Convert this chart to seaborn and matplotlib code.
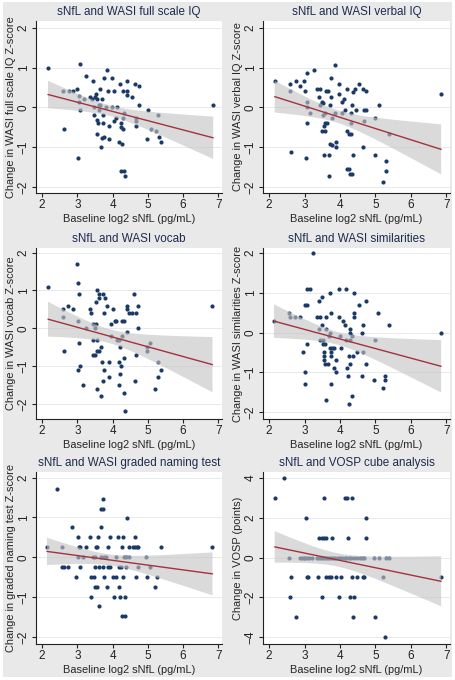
import numpy as np
import matplotlib
matplotlib.use("Agg")
import matplotlib.pyplot as plt
from matplotlib.patches import Rectangle
import seaborn as sns

titles = ["sNfL and WASI full scale IQ", "sNfL and WASI verbal IQ",
          "sNfL and WASI vocab", "sNfL and WASI similarities",
          "sNfL and WASI graded naming test", "sNfL and VOSP cube analysis"]
ylabels = ["Change in WASI full scale IQ Z-score", "Change in WASI verbal IQ Z-score",
           "Change in WASI vocab Z-score", "Change in WASI similarities Z-score",
           "Change in graded naming test Z-score", "Change in VOSP (points)"]
xlabel = "Baseline log2 sNfL (pg/mL)"
xticks = [2, 3, 4, 5, 6, 7]
zticks = [-2, -1, 0, 1, 2]
vosp_ticks = [-4, -2, 0, 2, 4]

fsiq_x = [2.17, 3.07, 3.26, 3.85, 3.44, 3.00, 3.75, 3.98, 4.40, 4.64, 4.74, 4.20, 3.63,
          2.59, 2.77, 2.89, 3.86, 4.03, 4.29, 4.41, 4.41, 4.55, 3.04, 3.18, 3.35, 3.41,
          3.50, 3.54, 3.55, 3.71, 3.05, 3.61, 3.65, 4.74, 3.46, 3.80, 3.97, 4.12, 3.07,
          3.62, 5.00, 6.85, 3.48, 3.74, 4.09, 4.32, 4.29, 4.65, 5.29, 3.55, 4.05, 4.65,
          3.58, 3.73, 4.25, 3.90, 4.66, 4.23, 4.30, 2.63, 5.08, 5.22, 3.55, 3.77, 5.31,
          3.71, 3.90, 4.98, 4.19, 5.38, 4.27, 3.68, 3.02, 4.24, 4.33, 4.36]
fsiq_y = [1.00, 1.08, 0.80, 0.93, 0.67, 0.47, 0.73, 0.73, 0.66, 0.60, 0.53, 0.60, 0.47,
          0.41, 0.41, 0.41, 0.41, 0.41, 0.41, 0.40, 0.32, 0.26, 0.28, 0.20, 0.25, 0.20,
          0.26, 0.33, 0.20, 0.20, 0.14, 0.07, 0.07, 0.07, 0.00, 0.00, 0.00, 0.00, -0.07,
          -0.07, -0.07, 0.07, -0.20, -0.20, -0.26, -0.14, -0.27, -0.26, -0.20, -0.32, -0.34, -0.34,
          -0.40, -0.40, -0.40, -0.47, -0.47, -0.48, -0.54, -0.53, -0.53, -0.60, -0.67, -0.74, -0.74,
          -0.78, -0.80, -0.80, -0.86, -0.87, -0.93, -1.00, -1.26, -1.60, -1.60, -1.73]

viq_x = [2.16, 2.59, 2.75, 2.88, 2.98, 3.07, 3.26, 3.02, 2.60, 3.35, 3.43, 3.40, 3.50,
         3.51, 3.60, 3.65, 3.74, 3.75, 3.86, 3.96, 3.96, 4.05, 4.12, 4.20, 4.38, 4.41,
         4.54, 4.64, 4.73, 3.08, 3.08, 3.43, 3.16, 3.72, 3.59, 3.53, 3.87, 4.15, 4.33,
         4.45, 4.67, 4.73, 5.10, 6.85, 3.77, 4.06, 4.30, 3.57, 3.64, 3.54, 3.08, 3.49,
         3.57, 4.20, 4.26, 4.30, 4.30, 4.67, 5.00, 5.38, 3.73, 3.77, 3.90, 3.90, 4.65,
         2.62, 3.03, 3.54, 3.69, 4.38, 4.98, 5.30, 4.21, 4.26, 5.29, 3.69, 4.27, 4.35, 5.22]
viq_y = [0.67, 0.60, 0.67, 0.53, 0.67, 0.86, 0.93, 0.40, 0.41, 0.47, 0.46, 0.26, 0.14,
         0.12, 0.40, 0.40, 0.26, 0.73, 1.07, 0.60, 0.33, 0.13, 0.20, 0.46, 0.39, 0.46,
         0.60, 0.47, 0.40, 0.13, 0.00, 0.07, -0.13, 0.07, -0.13, -0.20, -0.14, -0.07, 0.07,
         -0.06, -0.06, -0.07, 0.07, 0.33, -0.27, -0.13, -0.13, -0.40, -0.40, -0.47, -0.40, -0.60,
         -0.60, -0.60, -0.66, -0.67, -0.40, -0.33, -0.27, -0.67, -0.93, -0.94, -0.87, -1.00, -1.00,
         -1.13, -1.26, -1.20, -1.20, -1.20, -1.20, -1.34, -1.54, -1.54, -1.60, -1.73, -1.67, -1.67, -1.87]

vocab_x = [2.17, 2.98, 3.02, 3.06, 2.59, 2.75, 2.88, 2.59, 3.02, 3.35, 3.39, 3.53, 3.57,
           3.61, 3.61, 3.72, 3.78, 3.84, 3.75, 4.02, 3.96, 4.06, 4.10, 4.27, 4.33, 4.40,
           4.40, 4.47, 4.54, 4.62, 4.65, 4.71, 4.72, 6.83, 3.24, 3.44, 3.53, 3.51, 3.95,
           4.13, 4.18, 4.27, 4.40, 3.45, 3.55, 3.06, 2.62, 3.56, 3.61, 3.67, 3.45, 3.50,
           4.20, 4.65, 4.97, 5.07, 4.97, 3.09, 3.70, 3.89, 4.17, 4.24, 4.31, 5.30, 3.02,
           3.75, 5.37, 4.22, 3.89, 5.28, 3.16, 3.73, 4.19, 4.63, 3.55, 5.21, 4.33, 3.67, 4.36]
vocab_y = [1.1, 1.7, 1.2, 0.9, 0.5, 0.6, 0.5, 0.3, 0.2, 0.5, 0.4, 0.7, 1.0,
           0.9, 0.8, 0.9, 0.8, 0.6, 0.4, 0.5, 0.1, 0.2, 0.2, 0.2, 0.2, 0.6,
           0.5, 0.4, 0.4, 0.9, 0.4, 0.6, 0.0, 0.6, 0.0, 0.1, 0.1, 0.0, -0.2,
           -0.3, -0.3, -0.2, -0.1, -0.3, -0.3, -0.4, -0.6, -0.6, -0.6, -0.5, -0.7, -0.7,
           -0.5, -0.7, -0.5, -0.4, -0.6, -1.0, -0.9, -0.9, -0.9, -1.0, -0.8, -0.9, -1.1,
           -1.1, -1.1, -1.2, -1.3, -1.3, -1.5, -1.4, -1.5, -1.4, -1.6, -1.6, -1.7, -1.8, -2.2]

simil_x = [2.14, 2.57, 2.58, 2.73, 2.87, 3.24, 3.07, 3.16, 3.02, 3.07, 3.41, 3.49, 3.34,
           3.44, 3.60, 3.71, 3.74, 3.96, 3.96, 4.18, 4.09, 4.13, 4.40, 4.40, 4.40, 4.53,
           4.73, 5.07, 5.37, 4.65, 4.27, 3.49, 3.40, 3.61, 3.72, 4.28, 4.62, 6.85, 3.06,
           2.97, 3.45, 3.53, 3.53, 3.59, 3.69, 3.99, 4.18, 4.27, 4.34, 4.99, 4.65, 4.47,
           3.72, 3.78, 3.84, 4.02, 3.54, 3.54, 3.54, 3.57, 3.66, 3.74, 3.74, 3.89, 4.24,
           4.36, 4.28, 4.72, 4.19, 3.84, 3.89, 3.02, 4.23, 4.62, 5.28, 5.28, 4.97, 3.02,
           3.76, 5.20, 4.33, 3.61, 4.25]
simil_y = [0.3, 0.5, 0.4, 0.4, 0.4, 2.0, 1.1, 1.1, 0.7, 0.7, 0.8, 0.9, 0.4,
           0.4, 0.4, 1.0, 0.5, 1.1, 0.4, 1.1, 0.3, 0.2, 1.0, 0.5, 0.4, 0.7,
           0.8, 0.5, 0.2, 0.2, 0.1, 0.2, 0.1, 0.1, 0.0, 0.0, 0.0, 0.0, -0.3,
           -0.5, -0.2, -0.2, -0.3, -0.3, -0.1, -0.1, -0.2, -0.2, -0.1, -0.2, -0.5, -0.5,
           -0.4, -0.4, -0.4, -0.4, -0.5, -0.6, -0.7, -0.8, -0.8, -0.5, -0.6, -0.7, -0.6,
           -0.6, -0.8, -0.8, -0.9, -0.9, -1.0, -1.0, -1.1, -1.1, -1.1, -1.2, -1.2, -1.3,
           -1.3, -1.4, -1.6, -1.7, -1.8]

gnt_x = [2.14, 2.42, 2.58, 2.58, 2.62, 2.75, 2.86, 2.97, 3.01, 3.04, 3.09, 3.07, 3.02,
         3.16, 3.24, 3.35, 3.40, 3.47, 3.45, 3.51, 3.53, 3.57, 3.59, 3.51, 3.62, 3.49,
         3.55, 3.38, 3.61, 3.66, 3.66, 3.74, 3.73, 3.68, 3.75, 3.82, 3.74, 3.75, 3.84,
         3.88, 3.94, 3.88, 3.94, 4.02, 4.04, 4.11, 4.11, 4.16, 4.18, 4.24, 4.18, 4.22,
         4.27, 4.30, 4.30, 4.33, 4.34, 4.39, 4.26, 4.35, 4.40, 4.47, 4.46, 4.39, 4.57,
         4.63, 4.63, 4.69, 4.73, 4.66, 4.71, 4.96, 4.98, 5.07, 5.27, 5.21, 5.37, 6.83]
gnt_y = [0.25, 1.72, 0.25, -0.25, -0.25, -0.25, 0.75, -0.50, 0.50, 0.25, 0.25, -0.25, 0.00,
         0.00, 0.25, 0.50, -0.50, -0.50, 0.00, 0.00, 0.25, 0.25, 0.50, -0.25, -0.25, -0.75,
         -0.75, -1.00, -1.22, 0.75, 1.22, 1.22, 1.47, 0.00, 0.00, 0.00, -0.25, -0.50, -0.75,
         0.25, 0.50, -0.25, -0.25, -0.50, -1.00, 0.00, -0.50, 0.50, -0.25, -0.25, -0.75, -1.00,
         0.25, 0.50, -0.50, 0.00, -1.00, -0.25, -1.47, -1.47, 0.98, 0.00, 0.25, 0.00, 0.25,
         0.50, 0.25, 0.25, 0.25, -0.50, -0.25, 0.00, -0.50, -0.25, -0.50, -0.75, 0.25, 0.25]

vosp_x = [2.16, 2.43, 2.61, 2.59, 2.75, 3.03, 3.06, 3.10, 3.40, 3.50, 3.56, 3.61, 3.77,
          3.54, 3.39, 3.49, 3.61, 3.70, 3.74, 3.88, 4.02, 3.96, 4.13, 4.19, 4.33, 4.23,
          4.29, 4.40, 4.33, 4.47, 4.37, 4.64, 4.67, 4.73, 4.73, 4.99, 5.21, 5.28, 6.85,
          2.57, 2.87, 2.93, 2.98, 3.02, 3.07, 3.12, 3.22, 3.35, 3.42, 3.47, 3.52, 3.58,
          3.63, 3.68, 3.74, 3.80, 3.87, 3.93, 4.00, 4.07, 4.13, 4.18, 4.25, 4.32, 4.40,
          4.47, 4.57, 4.63, 4.69, 4.97, 5.09, 5.31, 5.39]
vosp_y = [3, 4, -1, -2, -3, 2, -1, -1, 1, 1, 1, 1, 1,
          3, -1, -2, -1, -1, -1, -1, -1, -2, 3, 3, 3, 1,
          -2, -2, -1, -1, -3, -1, -1, 2, 1, -3, -1, -4, -1,
          0, 0, 0, 0, 0, 0, 0, 0, 0, 0, 0, 0, 0,
          0, 0, 0, 0, 0, 0, 0, 0, 0, 0, 0, 0, 0,
          0, 0, 0, 0, 0, 0, 0, 0]

panels_x = [fsiq_x, viq_x, vocab_x, simil_x, gnt_x, vosp_x]
panels_y = [fsiq_y, viq_y, vocab_y, simil_y, gnt_y, vosp_y]
panel_ticks = [zticks, zticks, zticks, zticks, zticks, vosp_ticks]
ylims = [(-2.15, 2.17), (-2.15, 2.17), (-2.4, 2.12), (-2.18, 2.13), (-2.17, 2.14), (-4.33, 4.28)]

BG = "#E9E9EA"
NAVY = "#1B3A68"
RED = "#A2323E"
BAND = "#C4C4C4"
GRID = "#E6EAED"
AXC = "#222222"
TITLEC = "#1E2B4E"

sns.set_style("white")
plt.rcParams["font.family"] = ["Liberation Sans", "DejaVu Sans"]

W, H = 456, 680
fig = plt.figure(figsize=(W / 100, H / 100), dpi=100, facecolor="white")
fig.patches.append(Rectangle((3 / W, 3 / H), 449 / W, 675 / H, transform=fig.transFigure,
                             facecolor=BG, edgecolor="none", zorder=-10))

col_l = [36, 263]
col_r = [222, 450]
row_t = [21, 248, 472]
row_b = [193, 419, 644]

for i in range(6):
    r, c = divmod(i, 2)
    l, rr, t, b = col_l[c], col_r[c], row_t[r], row_b[r]
    ax = fig.add_axes([l / W, 1 - b / H, (rr - l) / W, (b - t) / H])
    ax.set_facecolor("white")
    x = np.asarray(panels_x[i], float)
    y = np.asarray(panels_y[i], float)

    sns.scatterplot(x=x, y=y, ax=ax, s=9, color=NAVY, linewidth=0, zorder=2)

    # analytic 95% CI of the linear fit (as in lfitci)
    n = len(x)
    b1, b0 = np.polyfit(x, y, 1)
    resid = y - (b0 + b1 * x)
    s = np.sqrt(np.sum(resid ** 2) / (n - 2))
    xm = x.mean()
    sxx = np.sum((x - xm) ** 2)
    grid = np.linspace(x.min(), x.max(), 200)
    fit = b0 + b1 * grid
    se = s * np.sqrt(1 / n + (grid - xm) ** 2 / sxx)
    tcrit = 1.99
    ax.fill_between(grid, fit - tcrit * se, fit + tcrit * se, facecolor=BAND,
                    alpha=0.62, edgecolor="none", zorder=3)

    sns.regplot(x=x, y=y, ax=ax, scatter=False, ci=None, color=RED, truncate=True,
                line_kws=dict(lw=1.0, zorder=4))

    ax.set_xlim(1.83, 7.1)
    ax.set_ylim(*ylims[i])
    ax.set_xticks(xticks)
    ax.set_yticks(panel_ticks[i])
    ax.yaxis.grid(True, color=GRID, lw=0.7)
    ax.xaxis.grid(False)
    ax.set_axisbelow(True)
    for sp in ["top", "right"]:
        ax.spines[sp].set_visible(False)
    for sp in ["left", "bottom"]:
        ax.spines[sp].set_color(AXC)
        ax.spines[sp].set_linewidth(0.8)
    ax.tick_params(direction="out", length=3.0, width=0.8, colors=AXC, labelsize=8.5,
                   pad=1.5, left=True, bottom=True)
    ax.tick_params(axis="y", labelrotation=90)
    for lab in ax.get_yticklabels():
        lab.set_va("center")
    ax.set_title(titles[i], fontsize=8.4, color=TITLEC, pad=4)
    ax.set_xlabel(xlabel, fontsize=7.9, labelpad=2)
    ax.set_ylabel(ylabels[i], fontsize=7.9, labelpad=1)

fig.savefig("out.png", dpi=100, facecolor=fig.get_facecolor())
